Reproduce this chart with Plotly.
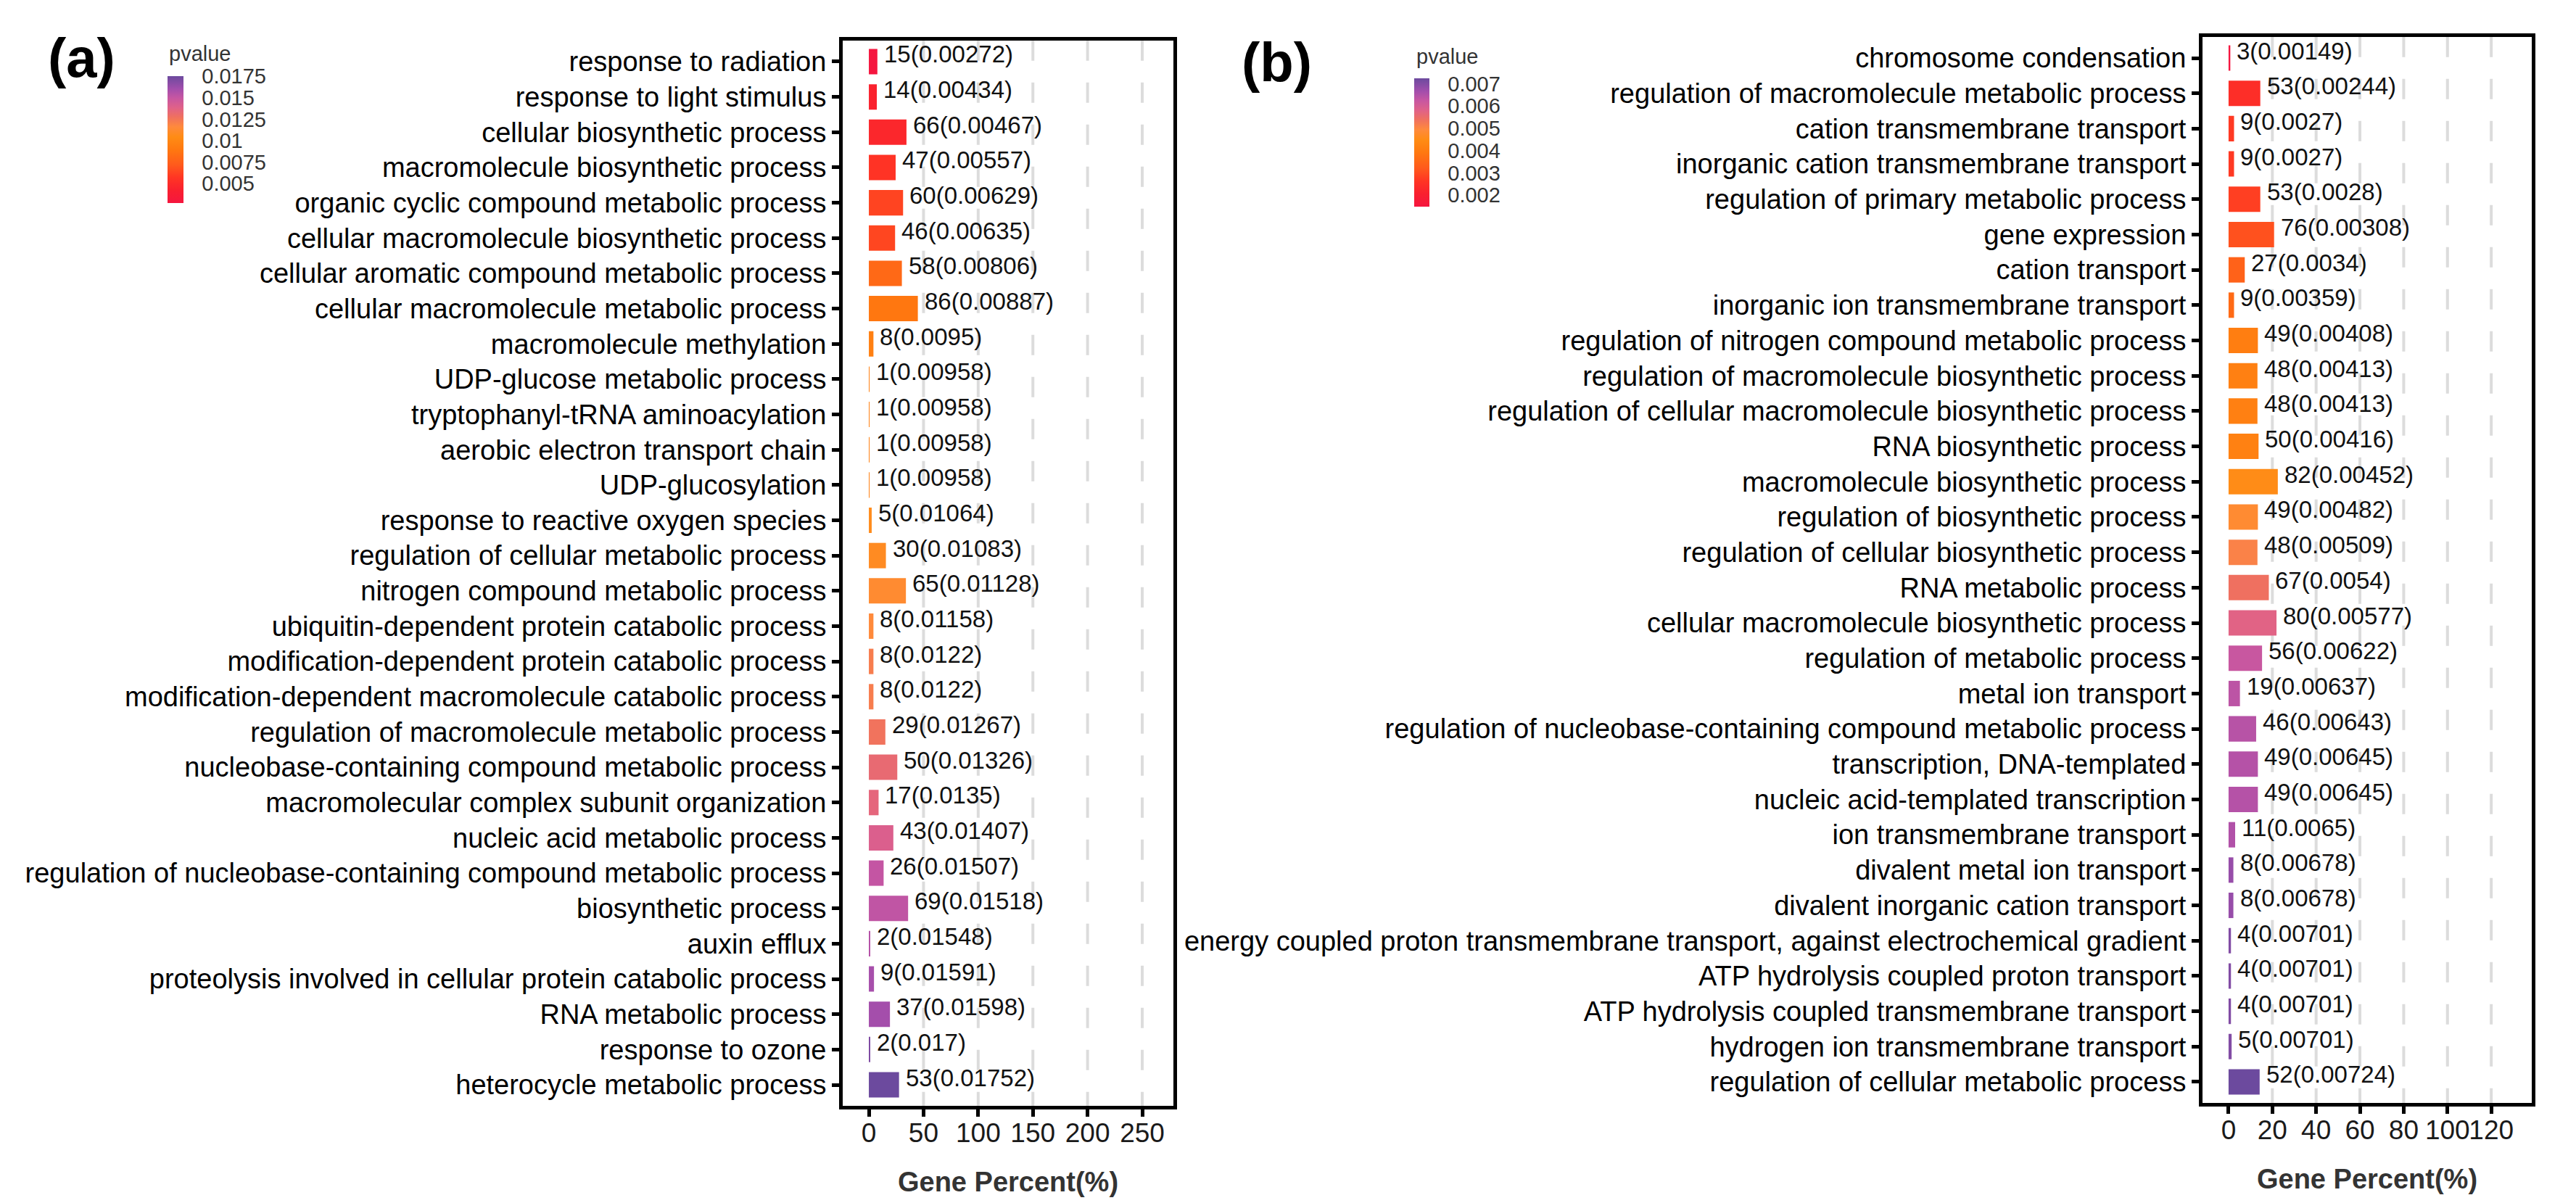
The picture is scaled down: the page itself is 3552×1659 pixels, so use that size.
import plotly.graph_objects as go

W, H = 3552, 1659

# ---- panel (a) ----
terms_a = ['response to radiation', 'response to light stimulus', 'cellular biosynthetic process',
           'macromolecule biosynthetic process', 'organic cyclic compound metabolic process',
           'cellular macromolecule biosynthetic process', 'cellular aromatic compound metabolic process',
           'cellular macromolecule metabolic process', 'macromolecule methylation',
           'UDP-glucose metabolic process', 'tryptophanyl-tRNA aminoacylation',
           'aerobic electron transport chain', 'UDP-glucosylation', 'response to reactive oxygen species',
           'regulation of cellular metabolic process', 'nitrogen compound metabolic process',
           'ubiquitin-dependent protein catabolic process', 'modification-dependent protein catabolic process',
           'modification-dependent macromolecule catabolic process', 'regulation of macromolecule metabolic process',
           'nucleobase-containing compound metabolic process', 'macromolecular complex subunit organization',
           'nucleic acid metabolic process', 'regulation of nucleobase-containing compound metabolic process',
           'biosynthetic process', 'auxin efflux', 'proteolysis involved in cellular protein catabolic process',
           'RNA metabolic process', 'response to ozone', 'heterocycle metabolic process']
counts_a = [15, 14, 66, 47, 60, 46, 58, 86, 8, 1, 1, 1, 1, 5, 30, 65, 8, 8, 8, 29, 50, 17, 43, 26, 69, 2, 9, 37, 2, 53]
pvalues_a = [0.00272, 0.00434, 0.00467, 0.00557, 0.00629, 0.00635, 0.00806, 0.00887, 0.0095, 0.00958,
             0.00958, 0.00958, 0.00958, 0.01064, 0.01083, 0.01128, 0.01158, 0.0122, 0.0122, 0.01267,
             0.01326, 0.0135, 0.01407, 0.01507, 0.01518, 0.01548, 0.01591, 0.01598, 0.017, 0.01752]
percent_a = [7.8, 7.3, 34.4, 24.5, 31.3, 24.0, 30.2, 44.8, 4.2, 0.5, 0.5, 0.5, 0.5, 2.6, 15.6,
             33.9, 4.2, 4.2, 4.2, 15.1, 26.0, 8.9, 22.4, 13.5, 35.9, 1.0, 4.7, 19.3, 1.0, 27.6]
xticks_a = [0, 50, 100, 150, 200, 250]
cbar_vals_a = [0.005, 0.0075, 0.01, 0.0125, 0.015, 0.0175]
cbar_text_a = ['0.005', '0.0075', '0.01', '0.0125', '0.015', '0.0175']

# ---- panel (b) ----
terms_b = ['chromosome condensation', 'regulation of macromolecule metabolic process',
           'cation transmembrane transport', 'inorganic cation transmembrane transport',
           'regulation of primary metabolic process', 'gene expression', 'cation transport',
           'inorganic ion transmembrane transport', 'regulation of nitrogen compound metabolic process',
           'regulation of macromolecule biosynthetic process', 'regulation of cellular macromolecule biosynthetic process',
           'RNA biosynthetic process', 'macromolecule biosynthetic process', 'regulation of biosynthetic process',
           'regulation of cellular biosynthetic process', 'RNA metabolic process',
           'cellular macromolecule biosynthetic process', 'regulation of metabolic process', 'metal ion transport',
           'regulation of nucleobase-containing compound metabolic process', 'transcription, DNA-templated',
           'nucleic acid-templated transcription', 'ion transmembrane transport', 'divalent metal ion transport',
           'divalent inorganic cation transport',
           'energy coupled proton transmembrane transport, against electrochemical gradient',
           'ATP hydrolysis coupled proton transport', 'ATP hydrolysis coupled transmembrane transport',
           'hydrogen ion transmembrane transport', 'regulation of cellular metabolic process']
counts_b = [3, 53, 9, 9, 53, 76, 27, 9, 49, 48, 48, 50, 82, 49, 48, 67, 80, 56, 19, 46, 49, 49, 11, 8, 8, 4, 4, 4, 5, 52]
pvalues_b = [0.00149, 0.00244, 0.0027, 0.0027, 0.0028, 0.00308, 0.0034, 0.00359, 0.00408, 0.00413,
             0.00413, 0.00416, 0.00452, 0.00482, 0.00509, 0.0054, 0.00577, 0.00622, 0.00637, 0.00643,
             0.00645, 0.00645, 0.0065, 0.00678, 0.00678, 0.00701, 0.00701, 0.00701, 0.00701, 0.00724]
percent_b = [0.8, 14.5, 2.5, 2.5, 14.5, 20.8, 7.4, 2.5, 13.4, 13.2, 13.2, 13.7, 22.5, 13.4, 13.2,
             18.4, 21.9, 15.3, 5.2, 12.6, 13.4, 13.4, 3.0, 2.2, 2.2, 1.1, 1.1, 1.1, 1.4, 14.2]
xticks_b = [0, 20, 40, 60, 80, 100, 120]
cbar_vals_b = [0.002, 0.003, 0.004, 0.005, 0.006, 0.007]
cbar_text_b = ['0.002', '0.003', '0.004', '0.005', '0.006', '0.007']

# red -> orange -> pink -> purple
scale = [[0.0, '#F5163F'], [0.1, '#F9202F'], [0.2, '#FF3524'], [0.3, '#FF5A1C'],
         [0.42, '#FF7810'], [0.52, '#FF8C14'], [0.6, '#FF8A3C'], [0.68, '#EF7060'],
         [0.75, '#E06288'], [0.83, '#C656A2'], [0.9, '#A24EAC'], [1.0, '#6C4A9E']]

FONT = 'Liberation Sans, Arial, sans-serif'


def colorbar(left, top, length, thick, vals, text):
    return dict(xref='container', yref='container', x=left / W, y=1 - top / H,
                xanchor='left', yanchor='top', lenmode='pixels', len=length,
                thicknessmode='pixels', thickness=thick, xpad=0, ypad=0, outlinewidth=0,
                tickvals=vals, ticktext=text, ticks='outside', ticklen=20,
                tickcolor='rgba(0,0,0,0)', tickfont=dict(size=29, color='#333333'))


fig = go.Figure()
fig.add_trace(go.Bar(x=percent_a, y=terms_a, orientation='h', width=0.72,
                     marker=dict(color=pvalues_a, coloraxis='coloraxis', line_width=0),
                     xaxis='x', yaxis='y', hoverinfo='skip'))
fig.add_trace(go.Bar(x=percent_b, y=terms_b, orientation='h', width=0.72,
                     marker=dict(color=pvalues_b, coloraxis='coloraxis2', line_width=0),
                     xaxis='x2', yaxis='y2', hoverinfo='skip'))

annotations = []
for xr, yr, xs, ts, cs, ps in [('x', 'y', percent_a, terms_a, counts_a, pvalues_a),
                               ('x2', 'y2', percent_b, terms_b, counts_b, pvalues_b)]:
    for v, t, c, p in zip(xs, ts, cs, ps):
        annotations.append(dict(x=v, y=t, xref=xr, yref=yr, text=f'{c}({p})', showarrow=False,
                                xanchor='left', yanchor='middle', xshift=7, yshift=10,
                                font=dict(size=33, color='#111111')))

# dashed reference lines at the non-zero ticks
shapes = []
for xr, ticks in [('x', xticks_a), ('x2', xticks_b)]:
    for v in ticks[1:]:
        shapes.append(dict(type='line', xref=xr, yref=xr.replace('x', 'y') + ' domain',
                           x0=v, x1=v, y0=1, y1=0, layer='below',
                           line=dict(color='#DCDCDC', width=4, dash='28px,30px')))

# panel labels and legend titles
for text, x, y, size, bold in [('(a)', 104, 72, 76, True), ('(b)', 1752, 78, 76, True),
                               ('pvalue', 223, 66, 29, False), ('pvalue', 1943, 70, 29, False)]:
    annotations.append(dict(x=x / W, y=1 - y / H, xref='paper', yref='paper',
                            text=f'<b>{text}</b>' if bold else text, showarrow=False,
                            xanchor='center' if bold else 'left', yanchor='middle',
                            font=dict(size=size, color='black' if bold else '#333333')))


def xaxis(left, right, rng, ticks):
    return dict(domain=[left / W, right / W], range=rng, tickvals=ticks, ticks='outside',
                ticklen=10, tickwidth=5, tickcolor='black', showline=True, mirror=True,
                linecolor='black', linewidth=5, showgrid=False, zeroline=False,
                automargin=False, tickangle=0, ticklabelstandoff=-10,
                tickfont=dict(size=37, color='#1A1A1A'),
                title=dict(text='<b>Gene Percent(%)</b>', standoff=36,
                           font=dict(size=38, color='#333333')))


def yaxis(top, bottom, terms, anchor):
    return dict(domain=[1 - bottom / H, 1 - top / H], type='category', categoryorder='array',
                categoryarray=terms, range=[len(terms) - 0.4, -0.6], ticks='outside',
                ticklen=10, tickwidth=5, tickcolor='black', showline=True, mirror=True,
                linecolor='black', linewidth=5, showgrid=False, zeroline=False,
                automargin=False, tickfont=dict(size=38, color='black'), anchor=anchor)


fig.update_layout(
    width=W, height=H, autosize=False, margin=dict(l=0, r=0, t=0, b=0, autoexpand=False),
    paper_bgcolor='white', plot_bgcolor='white', showlegend=False,
    font=dict(family=FONT, color='black'),
    xaxis=dict(xaxis(1154, 1610, [-23.9, 278.5], xticks_a), anchor='y'),
    yaxis=yaxis(47.8, 1517.2, terms_a, 'x'),
    xaxis2=dict(xaxis(3029, 3483, [-11.9, 138.5], xticks_b), anchor='y2'),
    yaxis2=yaxis(42.8, 1513.2, terms_b, 'x2'),
    coloraxis=dict(colorscale=scale, cmin=min(pvalues_a), cmax=max(pvalues_a),
                   colorbar=colorbar(223, 97, 175, 22, cbar_vals_a, cbar_text_a)),
    coloraxis2=dict(colorscale=scale, cmin=min(pvalues_b), cmax=max(pvalues_b),
                    colorbar=colorbar(1942, 100, 177, 21, cbar_vals_b, cbar_text_b)),
    annotations=annotations, shapes=shapes,
)

fig.write_html('out.html')
